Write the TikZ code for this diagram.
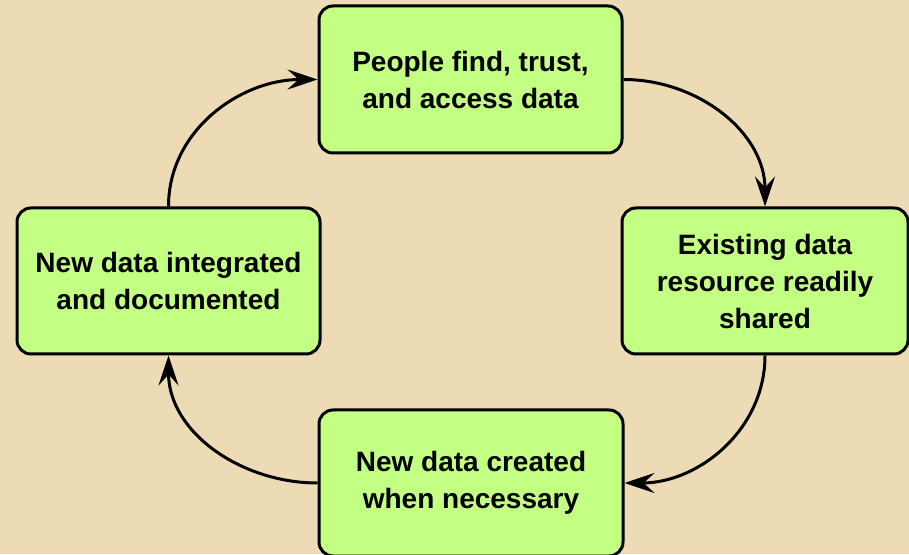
\documentclass[tikz,border=0pt]{standalone}
\usepackage{fontspec}
\setmainfont{Liberation Sans}
\usetikzlibrary{arrows.meta}
\definecolor{parchment}{RGB}{237,219,182}
\definecolor{stagegreen}{RGB}{194,255,130}
\tikzstyle{stage}=[rectangle, rounded corners=14pt, fill=stagegreen, draw=black, line width=3pt, align=center, inner sep=0pt, font=\fontsize{28}{37}\selectfont\bfseries]
\tikzstyle{flow}=[draw=black, line width=3pt, -{Stealth[length=30pt,width=20pt,inset=11pt]}]
\begin{document}
\begin{tikzpicture}[x=1pt,y=1pt]
	% background
	\fill[parchment] (0,0) rectangle (909,554);
	\useasboundingbox (0,0) rectangle (909,554);

	\node[stage, minimum width=303pt, minimum height=147pt](people) at (470.5,474.5){People find, trust,\\and access data};
	\node[stage, minimum width=286pt, minimum height=146pt](existing) at (765,273){Existing data\\resource readily\\shared};
	\node[stage, minimum width=304pt, minimum height=146pt](created) at (471,71){New data created\\when necessary};
	\node[stage, minimum width=303pt, minimum height=146pt](integrated) at (168.5,273){New data integrated\\and documented};

	\draw[flow] (people.east) to[out=0,in=90] (existing.north);
	\draw[flow] (existing.south) to[out=-90,in=0] (created.east);
	\draw[flow] (created.west) to[out=180,in=-90] (integrated.south);
	\draw[flow] (integrated.north) to[out=90,in=180] (people.west);

\end{tikzpicture}
\end{document}
